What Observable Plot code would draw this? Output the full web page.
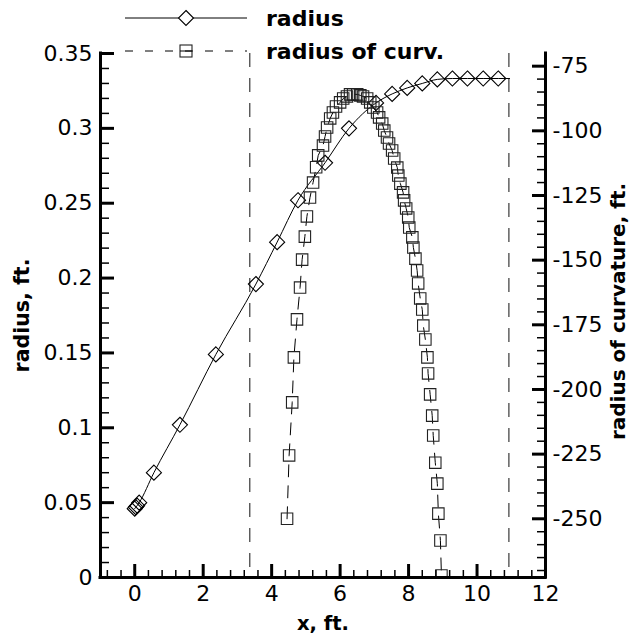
<!DOCTYPE html>
<html><head><meta charset="utf-8">
<script src="https://cdn.jsdelivr.net/npm/d3@7"></script>
<script src="https://cdn.jsdelivr.net/npm/@observablehq/plot@0.6"></script>
<style>
body{margin:0;background:#fff;}
#wrap{position:relative;width:639px;height:635px;}
#legend{position:absolute;left:0;top:0;}
</style></head><body><div id="wrap"></div>
<script>
// ---- data ----
const radiusX = [0, 0.03, 0.07, 0.13, 0.56, 1.32, 2.37, 3.54, 4.16, 4.77, 5.56, 6.26, 7.05, 7.52, 7.96, 8.40, 8.84, 9.28, 9.72, 10.18, 10.62, 10.95];
const radiusY = [0.046, 0.047, 0.048, 0.050, 0.070, 0.102, 0.149, 0.196, 0.224, 0.252, 0.277, 0.300, 0.317, 0.323, 0.327, 0.330, 0.3327, 0.3333, 0.3333, 0.3333, 0.3333, 0.3333];
const curvX = [4.45, 4.51, 4.60, 4.65, 4.74, 4.83, 4.89, 4.97, 5.03, 5.12, 5.21, 5.30, 5.36, 5.50, 5.56, 5.62, 5.71, 5.79, 5.88, 6.00, 6.09, 6.20, 6.29, 6.38, 6.50, 6.59, 6.67, 6.79, 6.88, 6.97, 7.08, 7.14, 7.23, 7.29, 7.37, 7.43, 7.52, 7.58, 7.67, 7.70, 7.76, 7.84, 7.87, 7.93, 7.99, 8.02, 8.11, 8.14, 8.20, 8.25, 8.28, 8.34, 8.40, 8.43, 8.49, 8.55, 8.57, 8.63, 8.69, 8.72, 8.78, 8.84, 8.87, 8.93, 8.96];
const curvY = [-250, -225.5, -205, -187.6, -172.9, -160.6, -149.8, -140.9, -133.1, -125.8, -120.0, -114.1, -109.5, -105.7, -102.2, -98.7, -95.2, -92.9, -90.6, -89.0, -87.5, -86.7, -85.9, -85.9, -85.9, -86.3, -86.7, -87.5, -89.0, -91.0, -92.9, -94.8, -97.2, -99.9, -102.6, -104.9, -107.6, -110.7, -114.2, -117.3, -120.4, -123.8, -126.9, -130.0, -133.5, -137.4, -141.2, -145.1, -149.4, -154.0, -159.0, -164.8, -169.1, -175.3, -180.7, -187.6, -193.8, -201.9, -210.1, -217.8, -228.3, -236.4, -248.0, -258.4, -271.9];
const refLinesX = [3.36, 10.93];
const xTicks = [0, 2, 4, 6, 8, 10, 12];
const xTickLabels = ["0", "2", "4", "6", "8", "10", "12"];
const yTicks = [0, 0.05, 0.1, 0.15, 0.2, 0.25, 0.3, 0.35];
const yTickLabels = ["0", "0.05", "0.1", "0.15", "0.2", "0.25", "0.3", "0.35"];
const rTicks = [-250, -225, -200, -175, -150, -125, -100, -75];
const rTickLabels = ["-250", "-225", "-200", "-175", "-150", "-125", "-100", "-75"];
const seriesNames = ["radius", "radius of curv."];
const xTitle = "x, ft.";
const yTitle = "radius, ft.";
const rTitle = "radius of curvature, ft.";
const xDomain = [-1, 12];
const yDomain = [0, 0.35];
const rDomain = [-272.7, -70.1];

// ---- build ----
const toLeft = r => (r - rDomain[0]) / (rDomain[1] - rDomain[0]) * (yDomain[1] - yDomain[0]) + yDomain[0];
const radiusData = radiusX.map((x, i) => ({x, y: radiusY[i]}));
const curvData = curvX.map((x, i) => ({x, r: curvY[i], y: toLeft(curvY[i])}));
const rTicksMapped = rTicks.map(toLeft);

const W = 639, H = 635, mL = 100, mR = 94, mT = 53, mB = 58;
const fw = W - mL - mR, fh = H - mT - mB;
const font = "DejaVu Sans";

const xMinor = d3.range(-0.8, 12, 0.4).filter(v => Math.abs(v / 2 - Math.round(v / 2)) > 1e-6);
const yMinor = d3.range(0.01, 0.35, 0.01).filter(v => Math.abs(v / 0.05 - Math.round(v / 0.05)) > 1e-6);
const rMinor = d3.range(-270, -70, 5).filter(v => v % 25 !== 0).map(toLeft);

const chart = Plot.plot({
  width: W, height: H, marginLeft: mL, marginRight: mR, marginTop: mT, marginBottom: mB,
  style: {fontFamily: font, fontSize: "22px", color: "#000", background: "#fff", overflow: "visible"},
  x: {domain: xDomain, label: null},
  y: {domain: yDomain, label: null},
  marks: [
    Plot.ruleX(refLinesX, {stroke: "#555", strokeWidth: 1.4, strokeDasharray: "14,11"}),
    Plot.line(radiusData, {x: "x", y: "y", stroke: "#000", strokeWidth: 1, curve: "monotone-x"}),
    Plot.dot(radiusData.slice(0, -1), {x: "x", y: "y", symbol: "diamond2", r: 6.8, stroke: "#000", strokeWidth: 1.1, fill: "none"}),
    Plot.line(curvData, {x: "x", y: "y", stroke: "#000", strokeWidth: 1, strokeDasharray: "12,9", clip: true}),
    Plot.dot(curvData, {x: "x", y: "y", symbol: "square2", r: 7.3, stroke: "#222", strokeWidth: 1.1, fill: "none", clip: true}),
    // axis lines
    Plot.ruleX([xDomain[0], xDomain[1]], {stroke: "#000", strokeWidth: 3, strokeLinecap: "square"}),
    Plot.ruleY([yDomain[0]], {stroke: "#000", strokeWidth: 3, strokeLinecap: "square"}),
    // inward ticks
    Plot.tickY(yTicks, {y: d => d, insetRight: fw - 14, stroke: "#000", strokeWidth: 3}),
    Plot.tickY(yMinor, {y: d => d, insetRight: fw - 9, stroke: "#000", strokeWidth: 1.5}),
    Plot.tickY(rTicksMapped, {y: d => d, insetLeft: fw - 13, stroke: "#000", strokeWidth: 3}),
    Plot.tickY(rMinor, {y: d => d, insetLeft: fw - 8, stroke: "#000", strokeWidth: 1.5}),
    Plot.tickX(xTicks, {x: d => d, insetTop: fh - 13, stroke: "#000", strokeWidth: 3}),
    Plot.tickX(xMinor, {x: d => d, insetTop: fh - 7, stroke: "#000", strokeWidth: 1.5}),
    // tick labels
    Plot.axisY(yTicks, {anchor: "left", tickSize: 0, tickPadding: 8, tickFormat: d => yTickLabels[yTicks.indexOf(d)], label: null}),
    Plot.axisY(rTicksMapped, {anchor: "right", tickSize: 0, tickPadding: 7, tickFormat: d => rTickLabels[rTicksMapped.indexOf(d)], label: null}),
    Plot.axisX(xTicks, {anchor: "bottom", tickSize: 0, tickPadding: 8, tickFormat: d => xTickLabels[xTicks.indexOf(d)], label: null}),
    // axis titles
    Plot.text([xTitle], {text: d => d, frameAnchor: "bottom", dy: 46, textAnchor: "middle", lineAnchor: "middle", fontWeight: "bold", fontSize: 19.5}),
    Plot.text([yTitle], {text: d => d, frameAnchor: "left", dx: -78, rotate: -90, textAnchor: "middle", lineAnchor: "middle", fontWeight: "bold", fontSize: 20.5}),
    Plot.text([rTitle], {text: d => d, frameAnchor: "right", dx: 73, dy: -4, rotate: -90, textAnchor: "middle", lineAnchor: "middle", fontWeight: "bold", fontSize: 20})
  ]
});
const wrap = document.getElementById("wrap");
wrap.appendChild(chart);

// legend overlay
const sq = 12, dh = 7.5;
const legend = `
<svg id="legend" width="639" height="70" xmlns="http://www.w3.org/2000/svg" style="font-family:'${font}';">
  <line x1="125" x2="247" y1="18" y2="18" stroke="#000" stroke-width="1"/>
  <path d="M186,${18 - dh} L${186 + dh},18 L186,${18 + dh} L${186 - dh},18 Z" fill="#fff" stroke="#000" stroke-width="1.1"/>
  <text x="266" y="18" dy="0.36em" font-size="22" font-weight="bold" fill="#000">${seriesNames[0]}</text>
  <line x1="125" x2="247" y1="51" y2="51" stroke="#000" stroke-width="1" stroke-dasharray="8,12"/>
  <rect x="${186 - sq / 2}" y="${51 - sq / 2}" width="${sq}" height="${sq}" fill="none" stroke="#222" stroke-width="1.1"/>
  <line x1="${186 - sq / 2}" x2="${186 + sq / 2}" y1="51" y2="51" stroke="#000" stroke-width="1"/>
  <text x="266" y="51" dy="0.36em" font-size="22" font-weight="bold" fill="#000">${seriesNames[1]}</text>
</svg>`;
wrap.insertAdjacentHTML("beforeend", legend);
</script></body></html>
